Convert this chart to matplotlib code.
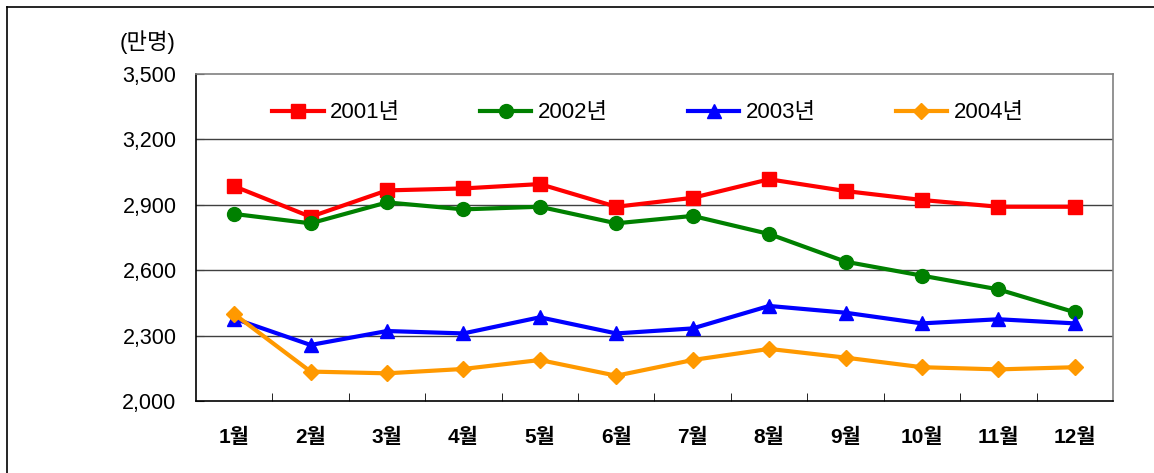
import matplotlib
matplotlib.use('Agg')
from matplotlib import pyplot as plt
from matplotlib.lines import Line2D

plt.rcParams['font.family'] = ['Liberation Sans', 'Noto Sans CJK KR']

months = ['1월', '2월', '3월', '4월', '5월', '6월',
          '7월', '8월', '9월', '10월', '11월', '12월']
y2001 = [2985, 2845, 2966, 2975, 2995, 2891, 2932, 3017, 2963, 2922, 2891, 2891]
y2002 = [2858, 2815, 2911, 2879, 2891, 2815, 2849, 2766, 2639, 2575, 2512, 2407]
y2003 = [2378, 2257, 2321, 2310, 2384, 2310, 2333, 2436, 2405, 2356, 2375, 2356]
y2004 = [2399, 2135, 2127, 2147, 2188, 2116, 2188, 2239, 2199, 2155, 2145, 2155]
yticks = [2000, 2300, 2600, 2900, 3200, 3500]

series = [
    ('2001년', y2001, '#FF0000', 's', 10),
    ('2002년', y2002, '#008000', 'o', 10),
    ('2003년', y2003, '#0000FF', '^', 10),
    ('2004년', y2004, '#FF9900', 'D', 8),
]

fig = plt.figure(figsize=(11.54, 4.73), dpi=100)
ax = fig.add_axes([0.1698, 0.1522, 0.7947, 0.6914])

x = list(range(len(months)))
for name, vals, col, mk, ms in series:
    ax.plot(x, vals, color=col, marker=mk, markersize=ms, linewidth=3,
            markeredgecolor=col, label=name, clip_on=False, zorder=3)

ax.set_xlim(-0.5, len(months) - 0.5)
ax.set_ylim(2000, 3500)
ax.set_yticks(yticks)
ax.set_yticklabels(['{:,}'.format(v) for v in yticks], fontsize=15.5)
for v in yticks[1:-1]:
    ax.axhline(v, color='#404040', linewidth=1, zorder=1)

ax.set_xticks(x)
ax.set_xticklabels(months, fontsize=15, fontweight='bold')
ax.tick_params(axis='x', length=0, pad=19)
ax.set_xticks([i + 0.5 for i in x[:-1]], minor=True)
ax.tick_params(axis='x', which='minor', direction='in', length=6, color='black')
ax.tick_params(axis='y', length=6, direction='in', pad=14, color='#404040')

ax.spines['left'].set_color('black')
ax.spines['bottom'].set_color('black')
ax.spines['top'].set_color('#808080')
ax.spines['right'].set_color('#808080')
for s in ax.spines.values():
    s.set_linewidth(1.2)

ax.legend(loc='center', bbox_to_anchor=(0.493, 0.881), ncol=4, frameon=False,
          fontsize=16, handlelength=2.3, handletextpad=0.3, columnspacing=3.6)

fig.text(120 / 1154, 1 - 42 / 473, '(만명)', fontsize=16, va='center', ha='left')

# outer frame
fig.add_artist(Line2D([7 / 1154, 7 / 1154], [0, 1 - 7 / 473], color='black', linewidth=1.2))
fig.add_artist(Line2D([7 / 1154, 1], [1 - 7 / 473, 1 - 7 / 473], color='black', linewidth=1.2))

fig.savefig('out.png', dpi=100)
